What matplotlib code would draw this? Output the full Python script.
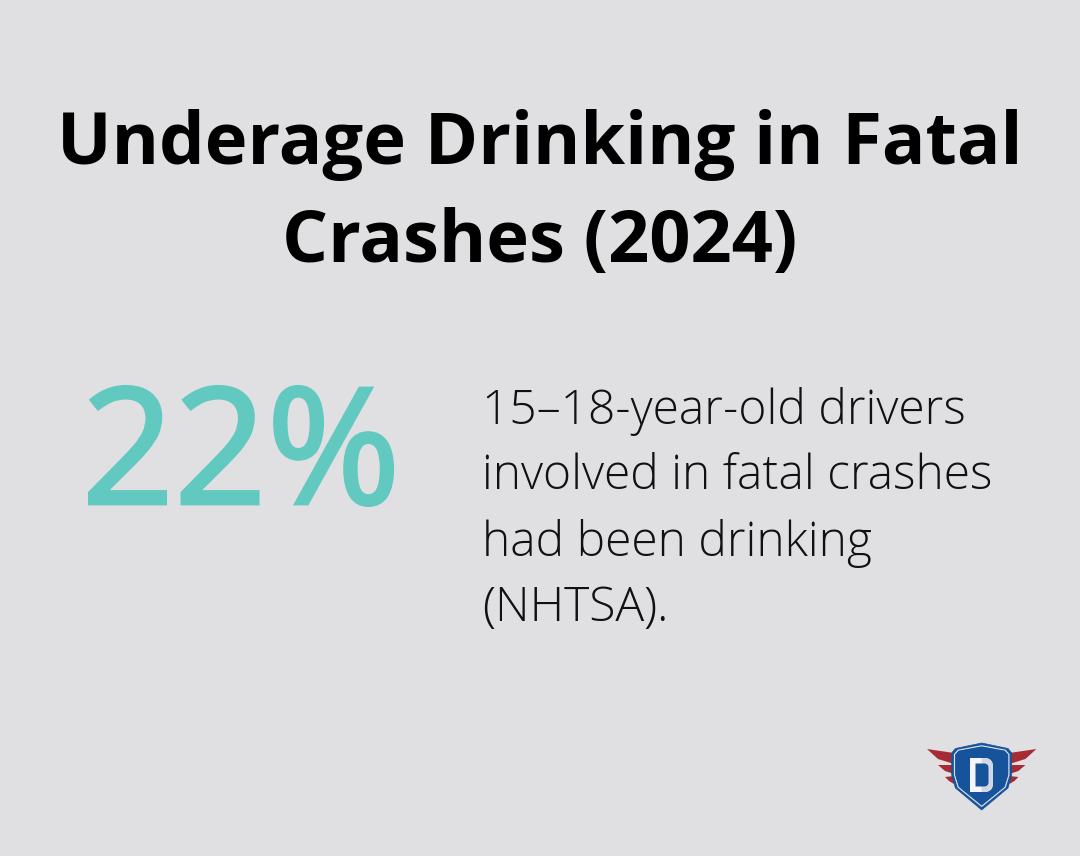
import matplotlib
matplotlib.use("Agg")
import matplotlib.pyplot as plt
from matplotlib.patches import Polygon, PathPatch
from matplotlib.path import Path
import matplotlib.patheffects as pe

title_lines = ["Underage Drinking in Fatal", "Crashes (2024)"]
stat_text = "22%"
body_lines = ["15–18-year-old drivers", "involved in fatal crashes", "had been drinking", "(NHTSA)."]

BG = "#e0e0e3"
fig = plt.figure(figsize=(10.8, 8.56), dpi=100, facecolor=BG)
ax = fig.add_axes([0, 0, 1, 1])
ax.set_xlim(0, 1080)
ax.set_ylim(856, 0)
ax.axis("off")

for line, y in zip(title_lines, [145, 243]):
    ax.text(540, y, line, ha="center", va="center", family="Open Sans",
            fontweight="bold", fontsize=52, color="#000000")

TEAL = "#62c9c0"
ax.text(241, 462, stat_text, ha="center", va="center", family="Open Sans",
        fontsize=116.5, color=TEAL,
        path_effects=[pe.withStroke(linewidth=2.4, foreground=TEAL, joinstyle="miter")])

for line, y in zip(body_lines, [411, 477, 543, 609]):
    ax.text(482, y, line, ha="left", va="center", family="Open Sans",
            fontweight="light", fontsize=34.6, color="#111111")

# logo: wings
RED = "#a62b35"
CX = 981.7
feathers = [[(927, 749), (954, 753), (954, 764), (938, 759)],
            [(938, 765), (954, 765), (954, 774), (945, 771)],
            [(945, 777), (954, 776), (954, 784), (949, 781)]]
for f in feathers:
    ax.add_patch(Polygon(f, closed=True, color=RED, lw=0))
    ax.add_patch(Polygon([(2 * CX - x, y) for x, y in f], closed=True, color=RED, lw=0))

# logo: shield
def shield(inset):
    i = inset
    verts = [(CX, 743 + i), (1008 - i, 748.5 + i * 0.6), (1011.7 - i, 753 + i * 0.5),
             (1011.7 - i, 775), (1008 - i, 788 - i * 0.3), (CX, 810 - i * 1.3),
             (955.4 + i, 788 - i * 0.3), (951.7 + i, 775), (951.7 + i, 753 + i * 0.5),
             (955.4 + i, 748.5 + i * 0.6)]
    return verts

ax.add_patch(Polygon(shield(0), closed=True, fc="#17539a", ec="#17539a", lw=0.5))
ax.add_patch(Polygon(shield(2.8), closed=True, fc="none", ec="#d5dee9", lw=0.9))
ax.add_patch(Polygon(shield(3.8), closed=True, fc="#17539a", lw=0))

# logo: letter D
d_codes = [Path.MOVETO, Path.LINETO, Path.CURVE4, Path.CURVE4, Path.CURVE4,
           Path.LINETO, Path.CURVE4, Path.CURVE4, Path.CURVE4, Path.LINETO, Path.CLOSEPOLY]
d_outer = [(970, 758), (984, 758), (990, 758), (993, 761), (993, 767),
           (993, 783), (993, 789), (990, 792), (984, 792), (970, 792), (970, 758)]
ax.add_patch(PathPatch(Path(d_outer, d_codes), fc="#f4f5f8", lw=0))
d_right = [(981.7, 758), (984, 758), (990, 758), (993, 761), (993, 767),
           (993, 783), (993, 789), (990, 792), (984, 792), (981.7, 792), (981.7, 758)]
ax.add_patch(PathPatch(Path(d_right, d_codes), fc="#d3d6e4", lw=0))
d_inner = [(975.5, 763.5), (984, 763.5), (987, 763.5), (988.5, 765), (988.5, 768),
           (988.5, 782), (988.5, 785), (987, 786.5), (984, 786.5), (975.5, 786.5), (975.5, 763.5)]
ax.add_patch(PathPatch(Path(d_inner, d_codes), fc="#17539a", lw=0))

fig.savefig("out.png", dpi=100, facecolor=BG)
